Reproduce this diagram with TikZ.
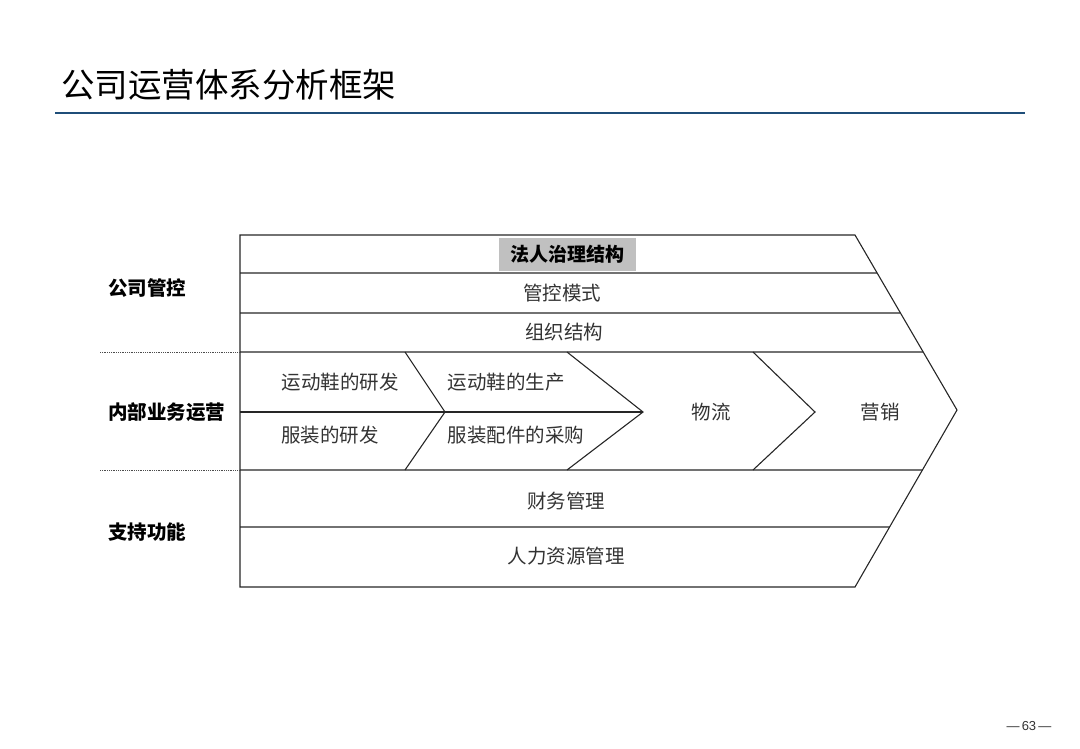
\documentclass[tikz,border=0pt]{standalone}
\usepackage{fontspec}
\setmainfont{Liberation Sans}
\newfontfamily\cjk{Noto Sans CJK SC}
\usepackage{xcolor}
\usepackage{tikz}
\usetikzlibrary{calc}

\definecolor{titleblue}{RGB}{31,78,121}
\definecolor{boxgray}{RGB}{192,192,192}

\begin{document}
\begin{tikzpicture}[x=1pt, y=-1pt,
  frame/.style={draw=black!85, line width=1.1pt},
  cell/.style={font=\cjk\fontsize{19.5}{21}\selectfont, text=black!80, inner sep=2pt},
  side/.style={anchor=west, font=\cjk\bfseries\fontsize{19.5}{21}\selectfont, inner sep=0pt},
  headbox/.style={fill=boxgray, font=\cjk\bfseries\fontsize{19}{21}\selectfont, minimum width=137pt, minimum height=33pt, inner sep=0pt},
  sep/.style={densely dotted, draw=black!70, line width=0.8pt}]

  \useasboundingbox (0,0) rectangle (1080,748);

  % title
  \node[anchor=west, font=\cjk\fontsize{33.5}{36}\selectfont, inner sep=0pt] (title) at (61,85) {公司运营体系分析框架};
  \coordinate (ruleL) at (55,113);
  \coordinate (ruleR) at (1025,113);
  \draw[titleblue, line width=1.6pt] (ruleL) -- (ruleR);

  % outline
  \coordinate (tl) at (240,235);
  \coordinate (tr) at (855,235);
  \coordinate (tip) at (957,410);
  \coordinate (br) at (855,587);
  \coordinate (bl) at (240,587);
  \draw[frame] (tl) -- (tr) -- (tip) -- (br) -- (bl) -- cycle;

  % row lines
  \foreach \y/\n in {273/r1, 313/r2, 352/r3} {
    \coordinate (\n) at ($(tr)!{(\y-235)/175}!(tip)$);
    \draw[frame] (240,\y) -- (\n);
  }
  \foreach \y/\n in {470/r4, 527/r5} {
    \coordinate (\n) at ($(br)!{(587-\y)/177}!(tip)$);
    \draw[frame] (240,\y) -- (\n);
  }

  % chevrons of the middle band
  \draw[frame] (405,352) -- (445,412) -- (405,470);
  \draw[frame] (567,352) -- (643,412) -- (567,470);
  \draw[frame] (753,352) -- (815,412) -- (753,470);
  \draw[frame] (240,412) -- (643,412);

  % dotted separators
  \draw[sep] (100,352) -- (240,352);
  \draw[sep] (100,470) -- (240,470);

  % left labels
  \node[side] (gov) at (108,288) {公司管控};
  \node[side] (ops) at (108,412) {内部业务运营};
  \node[side] (sup) at (108,532) {支持功能};

  % top band
  \node[headbox] (legal) at (567,254) {法人治理结构};
  \node[cell] (mode) at (562,293) {管控模式};
  \node[cell] (org) at (564,332) {组织结构};

  % middle band
  \node[cell] (shoeRD) at (340,382) {运动鞋的研发};
  \node[cell] (clothRD) at (330,435) {服装的研发};
  \node[cell] (shoeMk) at (506,382) {运动鞋的生产};
  \node[cell] (buy) at (516,435) {服装配件的采购};
  \node[cell] (logi) at (711,412) {物流};
  \node[cell] (mkt) at (880,412) {营销};

  % bottom band
  \node[cell] (fin) at (566,501) {财务管理};
  \node[cell] (hr) at (566,556) {人力资源管理};

  % page number
  \node[font=\fontsize{13}{15}\selectfont, text=black!80, inner sep=0pt] (page) at (1029,726) {—\,63\,—};
\end{tikzpicture}
\end{document}
